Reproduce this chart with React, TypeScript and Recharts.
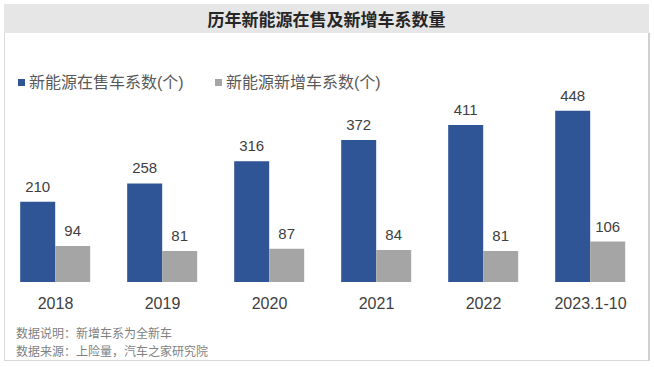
import React from "react";
import { BarChart, Bar, XAxis, YAxis, LabelList } from "recharts";

const categories = ["2018", "2019", "2020", "2021", "2022", "2023.1-10"];
const onSale = [210, 258, 316, 372, 411, 448];
const newAdded = [94, 81, 87, 84, 81, 106];
const seriesNames = ["新能源在售车系数(个)", "新能源新增车系数(个)"];
const notes = ["数据说明：新增车系为全新车", "数据来源：上险量，汽车之家研究院"];
const title = "历年新能源在售及新增车系数量";

const data = categories.map((c, i) => ({ name: c, a: onSale[i], b: newAdded[i] }));

const FONT = "'Liberation Sans', Arial, 'Noto Sans CJK SC', sans-serif";
const CJK = "'Noto Sans CJK SC', sans-serif";
const BLUE = "#2F5597";
const GRAY = "#A5A5A5";

const Tick = (props: any) => {
  const { x, y, payload } = props;
  return (
    <text x={x} y={y + 19} textAnchor="middle" fill="#404040" fontSize={16} fontFamily={FONT}>
      {payload.value}
    </text>
  );
};

export default function App() {
  return (
    <div style={{ position: "absolute", left: 0, top: 0, width: 654, height: 367, background: "#fff", fontFamily: FONT }}>
      <div style={{ position: "absolute", left: 4, top: 4, width: 645, height: 29, background: "#E6E6E6" }} />
      <div style={{ position: "absolute", left: 4, top: 4, width: 645, height: 29, lineHeight: "29px", textAlign: "center", fontWeight: "bold", fontSize: 17, color: "#262626", fontFamily: CJK }}>
        {title}
      </div>
      <div style={{ position: "absolute", left: 4, top: 33, width: 643, height: 327, border: "1px solid #D9D9D9", borderTop: "none", borderRight: "2px solid #D0D0D0", boxSizing: "content-box" }} />
      <div style={{ position: "absolute", left: 0, top: 0 }}>
        <BarChart width={654} height={367} data={data} margin={{ top: 91, right: 10, bottom: 55, left: 2 }} barCategoryGap="17%" barGap={0}>
          <XAxis dataKey="name" axisLine={false} tickLine={false} height={30} tick={<Tick />} interval={0} />
          <YAxis hide domain={[0, 500]} />
          <Bar dataKey="a" fill={BLUE} isAnimationActive={false}>
            <LabelList dataKey="a" position="top" offset={10} fill="#404040" fontSize={15} fontFamily={FONT} />
          </Bar>
          <Bar dataKey="b" fill={GRAY} isAnimationActive={false}>
            <LabelList dataKey="b" position="top" offset={10} fill="#404040" fontSize={15} fontFamily={FONT} />
          </Bar>
        </BarChart>
      </div>
      <div style={{ position: "absolute", left: 18, top: 79, width: 7, height: 7, background: BLUE }} />
      <div style={{ position: "absolute", left: 29, top: 72, fontSize: 16, lineHeight: "22px", color: "#595959", whiteSpace: "nowrap" }}>{seriesNames[0]}</div>
      <div style={{ position: "absolute", left: 215, top: 79, width: 7, height: 7, background: GRAY }} />
      <div style={{ position: "absolute", left: 226, top: 72, fontSize: 16, lineHeight: "22px", color: "#595959", whiteSpace: "nowrap" }}>{seriesNames[1]}</div>
      <div style={{ position: "absolute", left: 16, top: 325, fontSize: 12, lineHeight: "16px", height: 16, color: "#7F7F7F", whiteSpace: "nowrap", fontFamily: CJK }}>{notes[0]}</div>
      <div style={{ position: "absolute", left: 16, top: 342.5, fontSize: 12, lineHeight: "16px", height: 16, color: "#7F7F7F", whiteSpace: "nowrap", fontFamily: CJK }}>{notes[1]}</div>
    </div>
  );
}
